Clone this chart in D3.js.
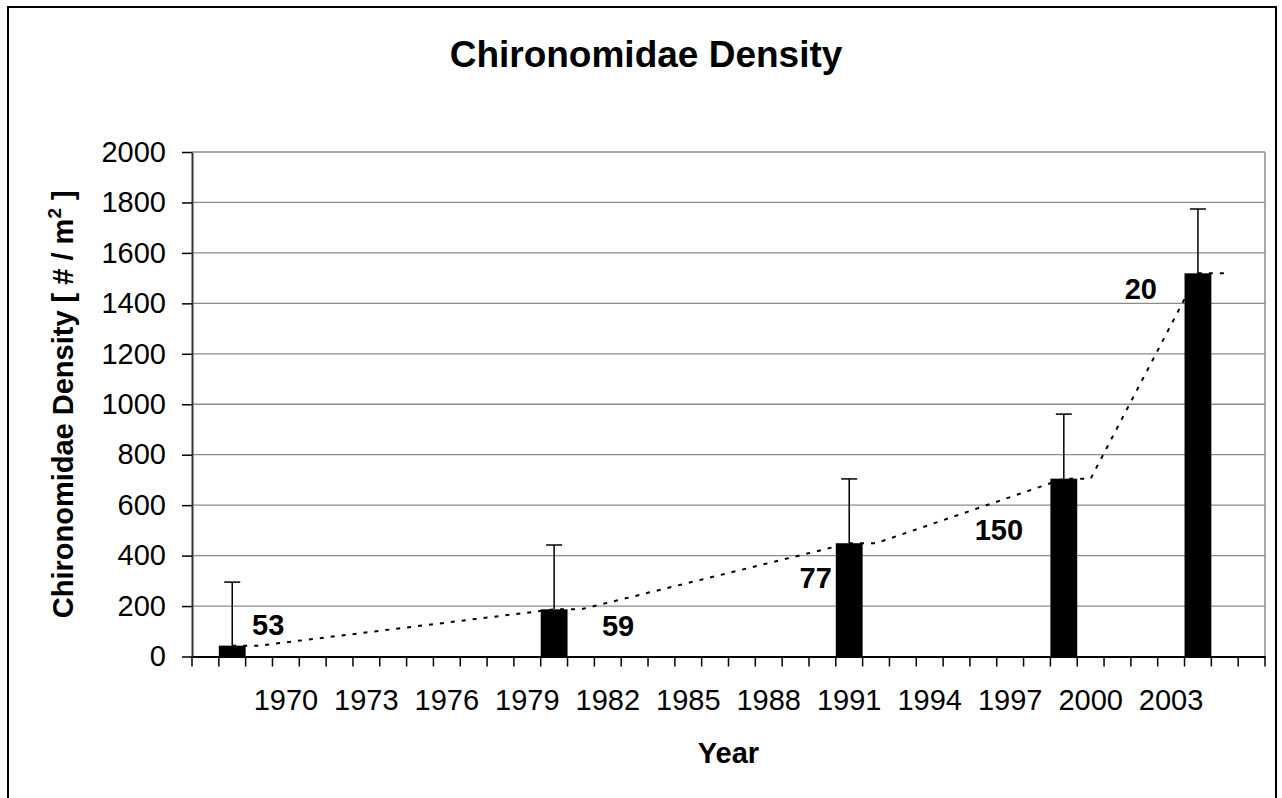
<!DOCTYPE html>
<html>
<head>
<meta charset="utf-8">
<script src="https://cdn.jsdelivr.net/npm/d3@7"></script>
<style>
  html, body { margin: 0; padding: 0; background: #fff; }
  svg { display: block; font-family: "Liberation Sans", Arial, sans-serif; }
</style>
</head>
<body>
<div id="chart"></div>
<script>
// ── Datos ────────────────────────────────────────────────
const years       = d3.range(1967, 2007);              // categorías del eje X
const labelYears  = [1970, 1973, 1976, 1979, 1982, 1985, 1988, 1991, 1994, 1997, 2000, 2003];
const yTicks      = [0, 200, 400, 600, 800, 1000, 1200, 1400, 1600, 1800, 2000];

const barYears    = [1968, 1980, 1991, 1999, 2004];
const barValues   = [43, 187, 449, 705, 1519];
const errorValues = [252, 255, 255, 256, 255];

// tamaño de muestra (n) junto a cada barra
const nLabels     = ['53', '59', '77', '150', '20'];
const nLabelYear  = [1969.24, 1982.28, 1990.85, 1997.98, 2002.97];
const nLabelValue = [125, 121, 313, 501, 1456];
const nLabelSide  = ['start', 'start', 'end', 'end', 'end'];

// serie punteada
const trendYears  = [1968, 1969, 1980, 1981, 1991, 1992, 1999, 2000, 2004, 2005];
const trendValues = [43, 43, 187, 187, 449, 449, 705, 705, 1519, 1519];

// ── Layout ───────────────────────────────────────────────
const W = 1282, H = 798;
const plot = { left: 192, right: 1265, top: 152, bottom: 656.5 };

const svg = d3.select('#chart').append('svg')
    .attr('width', W).attr('height', H);

svg.append('rect').attr('width', W).attr('height', H).attr('fill', '#fff');

// borde del gráfico
svg.append('rect')
    .attr('x', 8).attr('y', 7)
    .attr('width', 1268).attr('height', 820)
    .attr('fill', 'none').attr('stroke', '#000').attr('stroke-width', 2);

const x = d3.scaleBand().domain(years).range([plot.left, plot.right]).padding(0);
const y = d3.scaleLinear().domain([0, 2000]).range([plot.bottom, plot.top]);
const bw = x.bandwidth();
const xc = yr => x(yr) + bw / 2;
const xPos = t => x(years[0]) + (t - years[0]) * bw;

// Rejilla
svg.append('g').selectAll('line').data(yTicks.filter(d => d > 0)).join('line')
    .attr('x1', plot.left).attr('x2', plot.right)
    .attr('y1', d => y(d)).attr('y2', d => y(d))
    .attr('stroke', '#8c8c8c').attr('stroke-width', 1.3);

// borde derecho del área de trazado
svg.append('line')
    .attr('x1', plot.right).attr('x2', plot.right)
    .attr('y1', plot.top).attr('y2', plot.bottom)
    .attr('stroke', '#8c8c8c').attr('stroke-width', 1.5);

// Eje Y
const yAxis = svg.append('g')
    .attr('transform', `translate(${plot.left},0)`)
    .call(d3.axisLeft(y).tickValues(yTicks).tickFormat(d3.format('d'))
        .tickSize(10).tickPadding(16).tickSizeOuter(0));
yAxis.select('.domain').attr('stroke', '#333').attr('stroke-width', 2);
yAxis.selectAll('.tick line').attr('stroke', '#000').attr('stroke-width', 1.5);
yAxis.selectAll('.tick text').style('font-size', '29px').attr('fill', '#000')
    .style('font-family', '"Liberation Sans", Arial, sans-serif');

// Serie punteada (detrás de las barras)
const line = d3.line().x((d, i) => xc(trendYears[i])).y(d => y(d));
svg.append('path')
    .attr('d', line(trendValues))
    .attr('fill', 'none').attr('stroke', '#000')
    .attr('stroke-width', 2).attr('stroke-dasharray', '4,7');

// Barras
svg.append('g').selectAll('rect').data(barValues).join('rect')
    .attr('x', (d, i) => x(barYears[i]))
    .attr('y', d => y(d))
    .attr('width', bw)
    .attr('height', d => plot.bottom - y(d))
    .attr('fill', '#000');

// Barras de error (solo +)
const eb = svg.append('g').attr('stroke', '#000').attr('stroke-width', 1.5);
barValues.forEach((v, i) => {
    const cx = xc(barYears[i]);
    const top = y(v + errorValues[i]);
    eb.append('line').attr('x1', cx).attr('x2', cx).attr('y1', y(v)).attr('y2', top);
    eb.append('line').attr('x1', cx - 8).attr('x2', cx + 8).attr('y1', top).attr('y2', top);
});

// Eje X
const xAxis = svg.append('g')
    .attr('transform', `translate(0,${plot.bottom})`)
    .call(d3.axisBottom(x).tickValues(labelYears).tickSize(0).tickPadding(33).tickSizeOuter(0));
xAxis.select('.domain').attr('stroke', '#000').attr('stroke-width', 2);
xAxis.selectAll('.tick text').style('font-size', '29px').attr('fill', '#000')
    .style('font-family', '"Liberation Sans", Arial, sans-serif');

// marcas entre categorías
svg.append('g').selectAll('line').data(years.concat([null])).join('line')
    .attr('x1', d => d === null ? plot.right : x(d))
    .attr('x2', d => d === null ? plot.right : x(d))
    .attr('y1', plot.bottom).attr('y2', plot.bottom + 10)
    .attr('stroke', '#000').attr('stroke-width', 1.5);

// Etiquetas n
svg.append('g').selectAll('text').data(nLabels).join('text')
    .attr('x', (d, i) => xPos(nLabelYear[i]))
    .attr('y', (d, i) => y(nLabelValue[i]))
    .attr('dy', '0.35em')
    .attr('text-anchor', (d, i) => nLabelSide[i])
    .style('font-size', '29px').style('font-weight', 'bold')
    .text(d => d);

// Títulos
svg.append('text')
    .attr('x', 646).attr('y', 67)
    .attr('text-anchor', 'middle')
    .style('font-size', '37px').style('font-weight', 'bold')
    .text('Chironomidae Density');

svg.append('text')
    .attr('x', (plot.left + plot.right) / 2).attr('y', 763)
    .attr('text-anchor', 'middle')
    .style('font-size', '29px').style('font-weight', 'bold')
    .text('Year');

const yt = svg.append('text')
    .attr('transform', `translate(73,${(plot.top + plot.bottom) / 2}) rotate(-90)`)
    .attr('text-anchor', 'middle')
    .style('font-size', '29px').style('font-weight', 'bold');
yt.append('tspan').text('Chironomidae Density [ # / m');
yt.append('tspan').attr('dy', -12).style('font-size', '19px').text('2');
yt.append('tspan').attr('dy', 12).text(' ]');
</script>
</body>
</html>
